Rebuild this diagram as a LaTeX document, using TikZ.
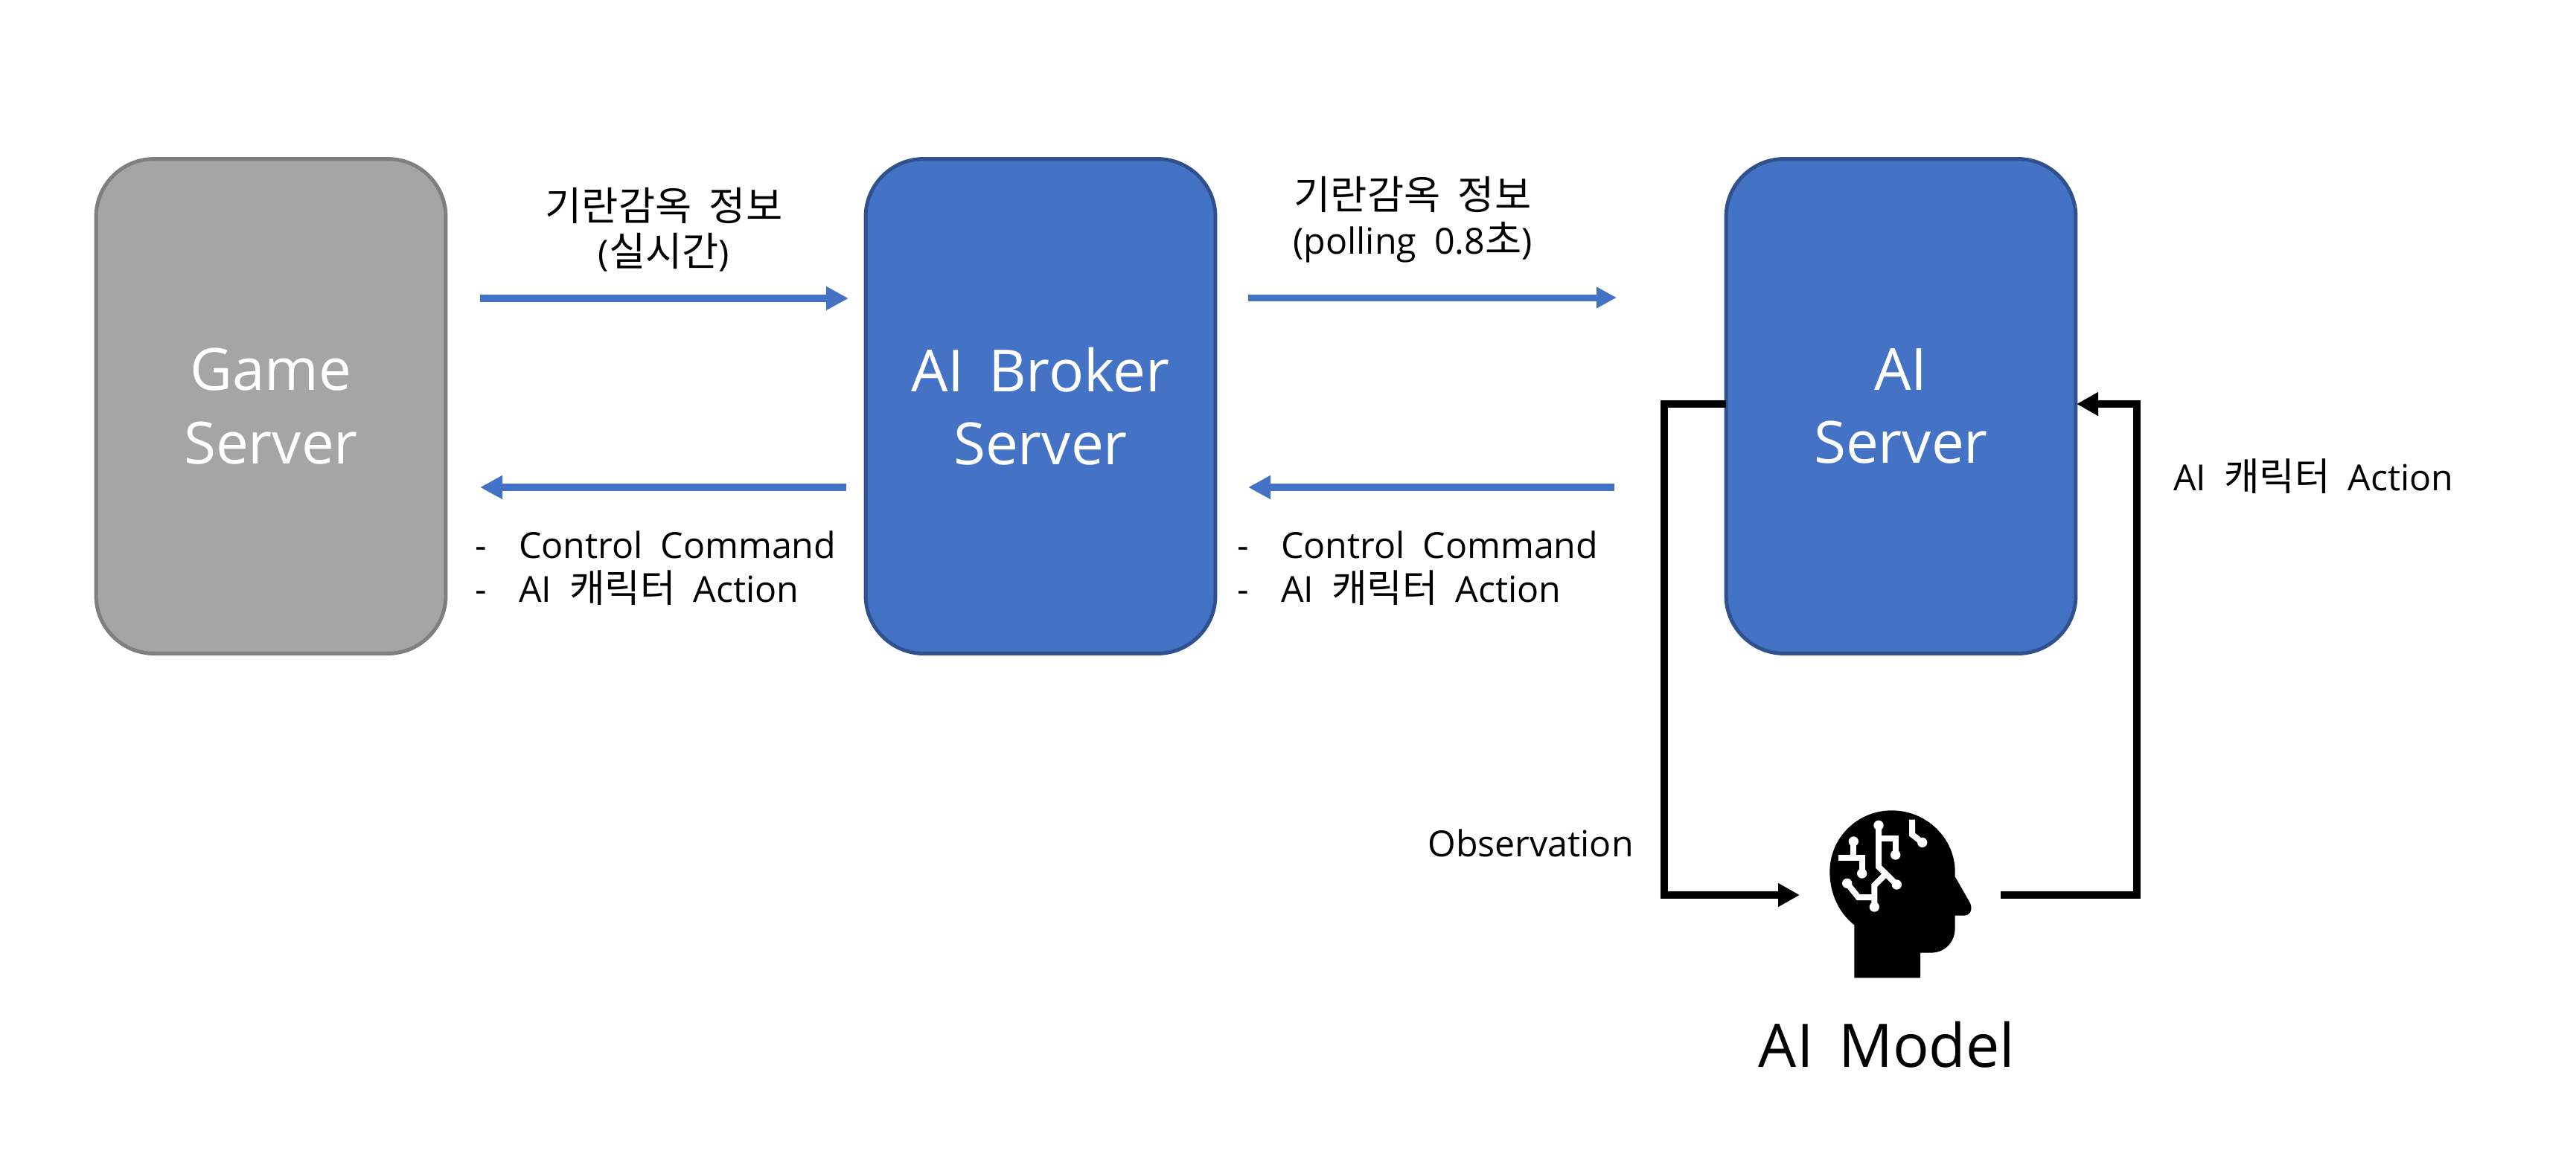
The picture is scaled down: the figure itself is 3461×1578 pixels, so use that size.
\documentclass[tikz,border=0pt]{standalone}
\usepackage{fontspec}
\setmainfont[WordSpace=1.9]{Open Sans}
\newfontfamily\bigf[WordSpace=1.6]{Open Sans}
\newfontfamily\kr[Scale=1.07,WordSpace=1.7]{Noto Sans CJK KR}
\newfontfamily\krt[Scale=1.107,WordSpace=1.7]{Noto Sans CJK KR}
\usetikzlibrary{arrows.meta}
\definecolor{bluefill}{HTML}{4472C4}
\definecolor{bluedraw}{HTML}{2F528F}
\definecolor{grayfill}{HTML}{A5A5A5}
\definecolor{graydraw}{HTML}{7F7F7F}
\tikzset{
  server/.style={draw,line width=0.1cm,rounded corners=1.56cm,minimum width=9.4cm,minimum height=13.3cm,
    text=white,align=center,inner sep=0pt,font=\bigf\fontsize{44.5}{56}\selectfont},
  bluebox/.style={server,fill=bluefill,draw=bluedraw},
  graybox/.style={server,fill=grayfill,draw=graydraw},
  label/.style={inner sep=0pt,text=black,font=\fontsize{27.5}{36}\selectfont},
  toplabel/.style={label,align=center,font=\fontsize{27.5}{34.5}\selectfont},
  listlabel/.style={label,align=left,anchor=west,font=\fontsize{27.5}{33.5}\selectfont},
  bluearrow/.style={draw=bluefill,line width=0.2cm,-{Triangle[length=0.6cm,width=0.6cm]}},
  thinbluearrow/.style={draw=bluefill,line width=0.18cm,-{Triangle[length=0.54cm,width=0.54cm]}},
  blackarrow/.style={draw=black,line width=0.2cm,line join=miter,-{Triangle[length=0.58cm,width=0.6cm]}},
  circuit/.style={draw=white,line width=0.16cm,line cap=butt,line join=miter},
  dot/.style={fill=white},
}
\newcommand{\li}[1]{\makebox[33.5pt][l]{-}#1}
\newcommand{\dn}[1]{\raisebox{-2.2pt}{#1}}
\begin{document}
\begin{tikzpicture}[x=0.02cm,y=-0.02cm]
\useasboundingbox (0,0) rectangle (3461,1578);
\node[graybox] (game) at (364,546) {\dn{Game}\\\dn{Server}};
\node[bluebox] (broker) at (1398,546) {\dn{AI Broker}\\\dn{Server}};
\node[bluebox] (ai) at (2554,546) {\dn{AI}\\\dn{Server}};
% free ends of connectors
\coordinate (a1s) at (645,401); \coordinate (a1e) at (1140,401);
\coordinate (a2s) at (1137,655); \coordinate (a2e) at (645,655);
\coordinate (a3s) at (1677,400); \coordinate (a3e) at (2172,400);
\coordinate (a4s) at (2169,655); \coordinate (a4e) at (1677,655);
\coordinate (obs1) at (2319,543); \coordinate (obs2) at (2236,543);
\coordinate (obs3) at (2236,1203); \coordinate (obs4) at (2418,1203);
\coordinate (act1) at (2688,1203); \coordinate (act2) at (2871,1203);
\coordinate (act3) at (2871,543); \coordinate (act4) at (2790,543);
\draw[bluearrow] (a1s) -- (a1e);
\draw[bluearrow] (a2s) -- (a2e);
\draw[thinbluearrow] (a3s) -- (a3e);
\draw[bluearrow] (a4s) -- (a4e);
\draw[blackarrow] (obs1) -- (obs2) -- (obs3) -- (obs4);
\draw[blackarrow] (act1) -- (act2) -- (act3) -- (act4);
% labels
\node[toplabel] (l1) at (892,309) {{\krt 기란감옥\hspace{0.06em} 정보}\\({\krt 실시간})};
\node[toplabel] (l2) at (1898,295) {{\krt 기란감옥\hspace{0.06em} 정보}\\(polling 0.8{\krt 초})};
\node[listlabel] (l3) at (638,764) {\li{Control Command}\\\li{AI {\kr 캐릭터} Action}};
\node[listlabel] (l4) at (1662,764) {\li{Control Command}\\\li{AI {\kr 캐릭터} Action}};
\node[label,anchor=west] (l5) at (2920,640) {AI {\kr 캐릭터} Action};
\node[label,anchor=west] (l6) at (1918,1133) {Observation};
\node[inner sep=0pt,font=\bigf\fontsize{46}{56}\selectfont] (l7) at (2535,1404) {AI Model};
% head icon
\begin{scope}[shift={(2350,1050)},scale=1/3]
\fill[black] (424,793) -- (424,580) .. controls (360,530) and (325,450) .. (325,365)
  .. controls (325,230) and (435,118) .. (575,118)
  .. controls (715,118) and (830,230) .. (830,365) -- (830,385) -- (890,490)
  .. controls (903,515) and (892,542) .. (865,542) -- (830,542) -- (830,590)
  .. controls (830,650) and (790,692) .. (730,692) -- (690,692) -- (690,793) -- cycle;
\draw[circuit] (421,243) -- (421,308);
\draw[circuit] (360,308) -- (455,308) -- (455,372);
\draw[circuit] (522,178) -- (522,345) -- (595,417);
\draw[circuit] (522,232) -- (590,232) -- (590,297);
\draw[circuit] (545,380) -- (505,420) -- (505,507);
\draw[circuit] (395,412) -- (440,468) -- (505,468);
\draw[circuit] (657,155) -- (657,215) -- (698,247);
\foreach \p in {(421,243),(455,372),(522,178),(595,417),(590,297),(505,507),(395,412),(698,247)}
  \fill[dot] \p circle[radius=20];
\end{scope}
\end{tikzpicture}
\end{document}
